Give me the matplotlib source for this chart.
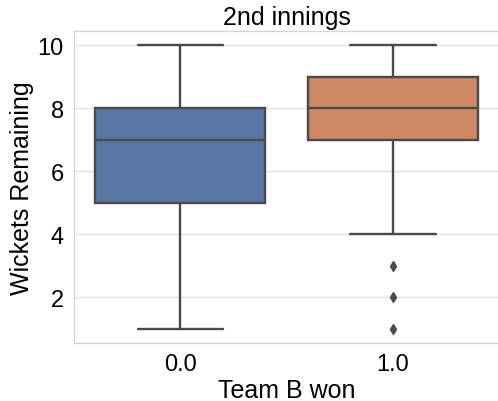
import matplotlib
matplotlib.use("Agg")
import matplotlib.pyplot as plt
import seaborn as sns

# wickets remaining for the chasing side, split by result
groups = ["0.0", "1.0"]
whisker_low = [1, 4]
q1 = [5, 7]
medians = [7, 8]
q3 = [8, 9]
whisker_high = [10, 10]
outliers = [[], [3, 2, 1]]

box_colors = ["#5975a4", "#cc8963"]
line_gray = "#4a4a4a"

sns.set_theme(style="whitegrid", context="talk")
plt.rcParams["font.family"] = ["Liberation Sans", "DejaVu Sans"]
plt.rcParams["text.color"] = "black"
plt.rcParams["axes.labelcolor"] = "black"

stats = []
for i, name in enumerate(groups):
    stats.append({
        "label": name,
        "whislo": whisker_low[i],
        "q1": q1[i],
        "med": medians[i],
        "q3": q3[i],
        "whishi": whisker_high[i],
        "fliers": outliers[i],
    })

fig = plt.figure(figsize=(4.98, 4.02), dpi=100)
ax = fig.add_axes([0.148, 0.144, 0.855, 0.776])

bp = ax.bxp(stats, positions=range(len(groups)), widths=0.8, patch_artist=True,
            boxprops=dict(linewidth=1.7, edgecolor=line_gray),
            medianprops=dict(color=line_gray, linewidth=1.7),
            whiskerprops=dict(color=line_gray, linewidth=1.7),
            capprops=dict(color=line_gray, linewidth=1.7),
            flierprops=dict(marker="d", markersize=5, markerfacecolor=line_gray,
                            markeredgecolor=line_gray, linestyle="none"),
            capwidths=0.4)
for patch, c in zip(bp["boxes"], box_colors):
    patch.set_facecolor(c)

ax.set_xlim(-0.5, 1.5)
ax.set_ylim(0.55, 10.45)
ax.set_yticks([2, 4, 6, 8, 10])
ax.set_xticks(range(len(groups)))
ax.set_xticklabels(groups)
ax.xaxis.grid(False)
ax.yaxis.grid(True, color="#e3e3e3", linewidth=1.0)
ax.set_axisbelow(True)
for s in ax.spines.values():
    s.set_color("#d6d6d6")
    s.set_linewidth(1.0)

ax.set_title("2nd innings", fontsize=18, pad=5)
ax.set_xlabel("Team B won", fontsize=18, labelpad=2)
ax.set_ylabel("Wickets Remaining", fontsize=18, labelpad=3)
ax.tick_params(labelsize=17, length=0, pad=7, labelcolor="black")

fig.savefig("out.png", dpi=100)
